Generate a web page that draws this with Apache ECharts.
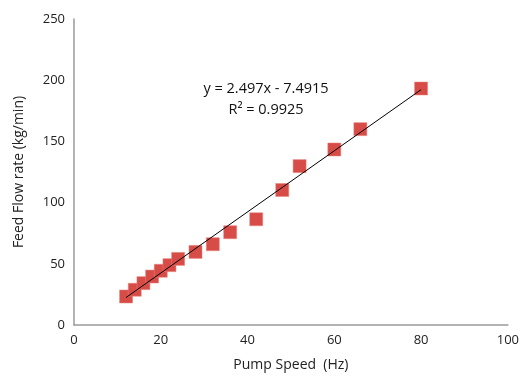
<!DOCTYPE html>
<html><head><meta charset="utf-8">
<script src="https://cdn.jsdelivr.net/npm/echarts@6/dist/echarts.min.js"></script>
<style>html,body{margin:0;padding:0;background:#fff}#c{width:522px;height:377px}</style>
</head><body><div id="c"></div>
<script>
const pumpSpeed = [12, 14, 16, 18, 20, 22, 24, 28, 32, 36, 42, 48, 52, 60, 66, 80];
const feedFlow  = [23.3, 28.8, 34.2, 39.6, 44.3, 48.9, 54.0, 59.7, 66.0, 75.8, 86.4, 110.3, 129.8, 143.4, 160.0, 193.2];
const trendX = [12, 80];
const trendY = [22.47, 192.27];
const equationText = 'y = 2.497x - 7.4915';
const r2Text = 'R² = 0.9925';
const xTitle = 'Pump Speed  (Hz)';
const yTitle = 'Feed Flow rate (kg/min)';

const font = 'Open Sans';
const chart = echarts.init(document.getElementById('c'));
chart.setOption({
  animation: false,
  grid: {left: 74, top: 19, right: 14, bottom: 52},
  xAxis: {
    type: 'value', min: 0, max: 100, interval: 20,
    name: xTitle, nameLocation: 'middle', nameGap: 33,
    nameTextStyle: {fontFamily: font, fontSize: 14, color: '#222'},
    axisLine: {show: true, lineStyle: {color: '#9a9a9a', width: 1.5}},
    axisTick: {show: false},
    splitLine: {show: false},
    axisLabel: {fontFamily: font, fontSize: 13, color: '#222', margin: 9}
  },
  yAxis: {
    type: 'value', min: 0, max: 250, interval: 50,
    name: yTitle, nameLocation: 'middle', nameGap: 48,
    nameTextStyle: {fontFamily: font, fontSize: 14, color: '#222'},
    axisLine: {show: true, lineStyle: {color: '#9a9a9a', width: 1.5}},
    axisTick: {show: false},
    splitLine: {show: false},
    axisLabel: {fontFamily: font, fontSize: 13, color: '#222', margin: 9}
  },
  series: [
    {
      type: 'scatter', symbol: 'rect', symbolSize: 13,
      itemStyle: {color: '#d84c47', opacity: 1, borderColor: '#e8807c', borderWidth: 0.5},
      data: pumpSpeed.map((x, i) => [x, feedFlow[i]]),
      z: 2
    },
    {
      type: 'line', symbol: 'none',
      lineStyle: {color: '#000', width: 1},
      data: trendX.map((x, i) => [x, trendY[i]]),
      z: 3
    }
  ],
  graphic: [
    {type: 'text', position: [266, 89], style: {text: equationText, font: '14.5px "Open Sans"', fill: '#111', align: 'center', verticalAlign: 'middle'}},
    {type: 'text', position: [266, 110], style: {text: r2Text, font: '14.5px "Open Sans"', fill: '#111', align: 'center', verticalAlign: 'middle'}}
  ]
});
</script></body></html>
